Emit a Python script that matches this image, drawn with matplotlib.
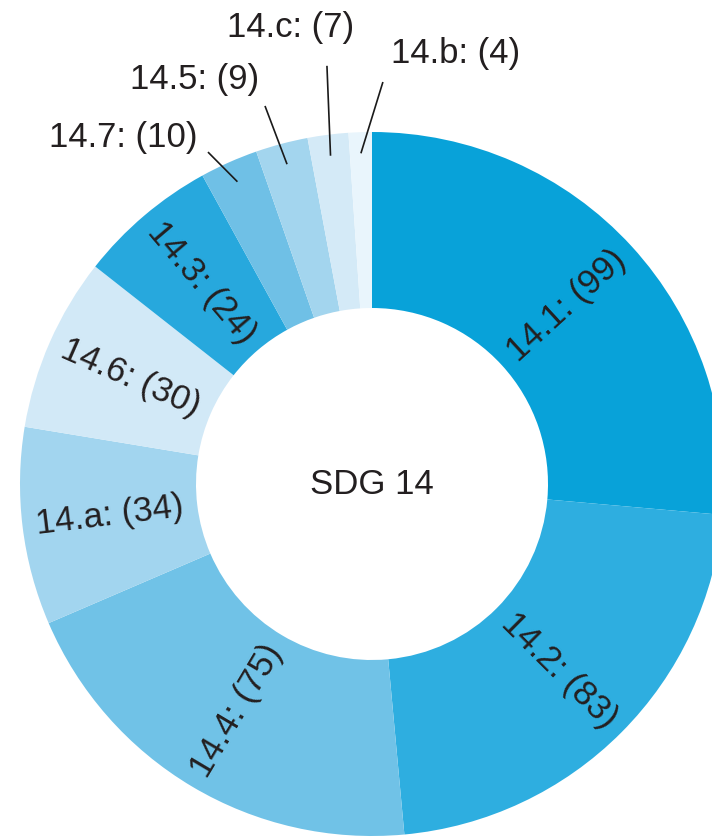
import matplotlib
matplotlib.use("Agg")
import matplotlib.pyplot as plt
import numpy as np

plt.rcParams['font.family'] = ['Liberation Sans', 'DejaVu Sans']

labels = ["14.1", "14.2", "14.4", "14.a", "14.6", "14.3", "14.7", "14.5", "14.c", "14.b"]
values = [99, 83, 75, 34, 30, 24, 10, 9, 7, 4]
colors = ["#08a2d9", "#2eaee0", "#70c2e7", "#a2d5ef", "#d2e9f7",
          "#27a8dd", "#6fc0e6", "#a3d5ee", "#d4eaf7", "#e9f5fc"]
center_title = "SDG 14"

# outside-labelled small slices: label -> (text position, line start) in axes data units
outside = {
    "14.7": ((-0.707, 0.983), (-0.466, 0.943)),
    "14.5": ((-0.503, 1.148), (-0.304, 1.074)),
    "14.c": ((-0.230, 1.298), (-0.128, 1.188)),
    "14.b": ((0.236, 1.222), (0.031, 1.142)),
}

W, H = 712, 839
cx, cy, Rpx = 372, 484, 352
fig = plt.figure(figsize=(W / 100, H / 100), dpi=100)
ax = fig.add_axes([0, 0, 1, 1])

wedges, _ = ax.pie(values, colors=colors, startangle=90, counterclock=False,
                   radius=1.0, wedgeprops=dict(width=0.5, linewidth=0))

txtcol = "#231f20"
fs = 25
for w, lab, v in zip(wedges, labels, values):
    ang = (w.theta1 + w.theta2) / 2.0
    rad = np.deg2rad(ang)
    text = f"{lab}: ({v})"
    if lab in outside:
        (tx, ty), (lx, ly) = outside[lab]
        r_end = 0.94
        ax.plot([lx, r_end * np.cos(rad)], [ly, r_end * np.sin(rad)],
                color="#1a1a1a", lw=1.2, solid_capstyle="butt")
        ax.text(tx, ty, text, ha="center", va="center", fontsize=fs, color=txtcol)
    else:
        r = 0.75
        rot = ang
        a = ((ang + 180) % 360) - 180
        if a > 90 or a < -90:
            rot = a + 180 if a < 0 else a - 180
        else:
            rot = a
        ax.text(r * np.cos(rad), r * np.sin(rad), text, ha="center", va="center",
                rotation=rot, rotation_mode="anchor", fontsize=fs, color=txtcol)

ax.text(0, 0, center_title, ha="center", va="center", fontsize=fs, color=txtcol)

ax.set_xlim(-cx / Rpx, (W - cx) / Rpx)
ax.set_ylim(-(H - cy) / Rpx, cy / Rpx)
ax.set_aspect("equal", adjustable="box")
ax.axis("off")
fig.savefig("out.png", dpi=100)
